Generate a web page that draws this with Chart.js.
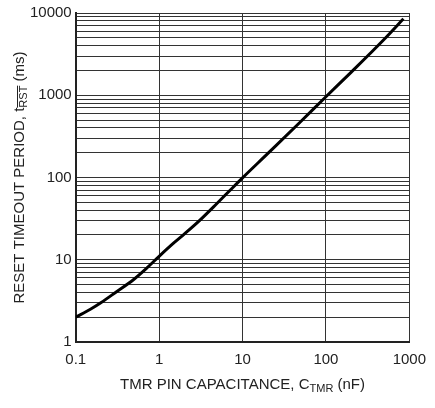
<!DOCTYPE html>
<html><head><meta charset="utf-8">
<script src="https://cdn.jsdelivr.net/npm/chart.js@4"></script>
<style>html,body{margin:0;padding:0;background:#fff}</style>
</head><body>
<canvas id="c" width="435" height="408"></canvas>
<script>
const capNF = [0.1, 0.15, 0.2, 0.3, 0.5, 0.7, 1, 1.5, 2, 3, 5, 7, 10, 20, 50, 100, 200, 500, 850];
const resetMs = [2, 2.5, 3.0, 4.0, 5.8, 7.8, 11, 16, 20.5, 29.5, 49, 69, 99, 195, 480, 960, 1900, 4800, 8500];
const xTickVals = [0.1, 1, 10, 100, 1000];
const xTickLabels = ['0.1', '1', '10', '100', '1000'];
const yTickLabels = ['1', '10', '100', '1000', '10000'];
const FONT = '"Liberation Sans Narrow", "Liberation Sans", Arial, sans-serif';

const titles = {
  id: 'titles',
  afterDraw(chart) {
    const ctx = chart.ctx, a = chart.chartArea;
    ctx.save();
    ctx.fillStyle = '#222';
    const parts = [['TMR PIN CAPACITANCE, C', 15, 0], ['TMR', 11, 3], [' (nF)', 15, 0]];
    let w = 0;
    parts.forEach(p => { ctx.font = p[1] + 'px ' + FONT; w += ctx.measureText(p[0]).width; });
    let x = (a.left + a.right) / 2 - w / 2, y = 389;
    ctx.textBaseline = 'alphabetic';
    parts.forEach(p => { ctx.font = p[1] + 'px ' + FONT; ctx.fillText(p[0], x, y + p[2]); x += ctx.measureText(p[0]).width; });
    ctx.translate(24, (a.top + a.bottom) / 2);
    ctx.rotate(-Math.PI / 2);
    const yp = [['RESET TIMEOUT PERIOD, t', 15, 0, false], ['RST', 11, 3, true], [' (ms)', 15, 0, false]];
    w = 0;
    yp.forEach(p => { ctx.font = p[1] + 'px ' + FONT; w += ctx.measureText(p[0]).width; });
    x = -w / 2;
    yp.forEach(p => {
      ctx.font = p[1] + 'px ' + FONT;
      const tw = ctx.measureText(p[0]).width;
      ctx.fillText(p[0], x, p[2]);
      if (p[3]) { ctx.fillRect(x, p[2] - 10, tw, 1); }
      x += tw;
    });
    ctx.restore();
  }
};

new Chart(document.getElementById('c'), {
  type: 'line',
  data: { datasets: [{ data: capNF.map((v, i) => ({ x: v, y: resetMs[i] })), borderColor: '#000', borderWidth: 3, pointRadius: 0, tension: 0.4, cubicInterpolationMode: 'monotone' }] },
  options: {
    responsive: false, animation: false,
    layout: { padding: { left: 26, right: 18, top: 12, bottom: 30 } },
    plugins: { legend: { display: false }, tooltip: { enabled: false } },
    scales: {
      x: {
        type: 'logarithmic', min: 0.1, max: 1000,
        afterBuildTicks: s => { s.ticks = xTickVals.map(v => ({ value: v })); },
        ticks: { autoSkip: false, maxRotation: 0, color: '#222', font: { family: FONT, size: 15 }, padding: 9,
          callback: (v, i) => xTickLabels[i] },
        grid: { color: '#333', lineWidth: 1, drawTicks: false },
        border: { color: '#222', width: 2 }
      },
      y: {
        type: 'logarithmic', min: 1, max: 10000,
        afterBuildTicks: s => {
          const t = [];
          for (let e = 0; e < 4; e++) for (let m = 1; m < 10; m++) t.push({ value: m * Math.pow(10, e) });
          t.push({ value: 10000 });
          s.ticks = t;
        },
        ticks: { autoSkip: false, color: '#222', font: { family: FONT, size: 15 }, padding: 4,
          callback: v => { const e = Math.round(Math.log10(v)); return Math.abs(v - Math.pow(10, e)) < 1e-9 ? yTickLabels[e] : ''; } },
        grid: { color: '#333', lineWidth: 1, drawTicks: false },
        border: { color: '#222', width: 2 }
      }
    }
  },
  plugins: [titles]
});
</script>
</body></html>
